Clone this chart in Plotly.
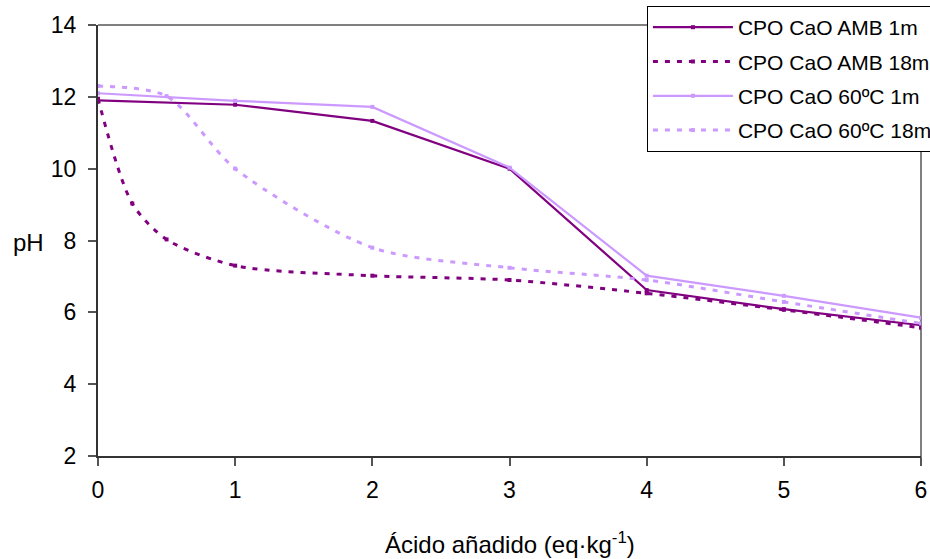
import plotly.graph_objects as go

# Acid added (eq/kg) and measured pH for each sample series
acid = [0, 1, 2, 3, 4, 5, 6]
ph_amb_1m = [11.90, 11.78, 11.33, 10.00, 6.62, 6.09, 5.64]

acid_amb_18m = [0, 0.25, 0.5, 1, 2, 3, 4, 5, 6]
ph_amb_18m = [11.95, 9.03, 8.03, 7.30, 7.02, 6.90, 6.53, 6.07, 5.57]

ph_60_1m = [12.10, 11.89, 11.72, 10.03, 7.02, 6.46, 5.85]

acid_60_18m = [0, 0.5, 1, 2, 3, 4, 5, 6]
ph_60_18m = [12.30, 12.02, 10.00, 7.80, 7.24, 6.90, 6.29, 5.69]

x_ticks = [0, 1, 2, 3, 4, 5, 6]
y_ticks = [2, 4, 6, 8, 10, 12, 14]

DARK = "#800080"
LIGHT = "#CC99FF"
FONT = "Arial, Liberation Sans, sans-serif"

fig = go.Figure()

fig.add_trace(go.Scatter(
    x=acid, y=ph_amb_1m, name="CPO CaO AMB 1m", mode="lines+markers",
    line=dict(color=DARK, width=2.2),
    marker=dict(color=DARK, size=4, symbol="square"),
    legendgroup="a",
))
fig.add_trace(go.Scatter(
    x=acid_amb_18m, y=ph_amb_18m, name="CPO CaO AMB 18m", mode="lines+markers",
    line=dict(color=DARK, width=3, dash="5px,7px", shape="spline", smoothing=0.8),
    marker=dict(color=DARK, size=4, symbol="square"),
    legendgroup="b",
))
fig.add_trace(go.Scatter(
    x=acid, y=ph_60_1m, name="CPO CaO 60ºC 1m", mode="lines+markers",
    line=dict(color=LIGHT, width=2.2),
    marker=dict(color=LIGHT, size=4, symbol="square"),
    legendgroup="c",
))
fig.add_trace(go.Scatter(
    x=acid_60_18m, y=ph_60_18m, name="CPO CaO 60ºC 18m", mode="lines+markers",
    line=dict(color=LIGHT, width=3, dash="5px,7px", shape="spline", smoothing=0.8),
    marker=dict(color=LIGHT, size=4, symbol="square"),
    legendgroup="d",
))

# Plot-area frame: gray on top and right
fig.add_shape(type="line", xref="paper", yref="paper", x0=0, x1=1, y0=1, y1=1,
              line=dict(color="#808080", width=2), layer="below")
fig.add_shape(type="line", xref="paper", yref="paper", x0=1, x1=1, y0=-0.015, y1=1,
              line=dict(color="#808080", width=2), layer="below")

fig.add_annotation(text="pH", xref="paper", yref="paper", x=-0.085, y=0.4965,
                   xanchor="center", yanchor="middle", showarrow=False,
                   font=dict(family=FONT, size=24, color="black"))
fig.add_annotation(text="Ácido añadido (eq·kg<sup>-1</sup>)", xref="paper", yref="paper",
                   x=0.5006, y=-0.201, xanchor="center", yanchor="middle", showarrow=False,
                   font=dict(family=FONT, size=24, color="black"))

fig.update_layout(
    width=930, height=559,
    margin=dict(l=98, r=9, t=25, b=103, autoexpand=False),
    paper_bgcolor="white", plot_bgcolor="white",
    font=dict(family=FONT, size=22, color="black"),
    showlegend=True,
    legend=dict(
        x=0.667, y=1.044, xanchor="left", yanchor="top",
        bgcolor="white", bordercolor="black", borderwidth=1,
        font=dict(family=FONT, size=21, color="black"),
        itemwidth=80, tracegroupgap=4, traceorder="grouped",
    ),
    xaxis=dict(
        range=[0, 6], tickvals=x_ticks, ticktext=[str(v) for v in x_ticks],
        showgrid=False, zeroline=False,
        showline=True, linecolor="#333333", linewidth=2,
        ticks="outside", ticklen=8, tickcolor="#555555", tickwidth=1.5,
        tickfont=dict(family=FONT, size=23, color="black"),
        ticklabelstandoff=4,
    ),
    yaxis=dict(
        range=[2, 14], tickvals=y_ticks, ticktext=[str(v) for v in y_ticks],
        showgrid=False, zeroline=False,
        showline=True, linecolor="#333333", linewidth=2,
        ticks="outside", ticklen=8, tickcolor="#555555", tickwidth=1.5,
        tickfont=dict(family=FONT, size=23, color="black"),
        ticklabelstandoff=7,
    ),
)

fig.write_html("out.html")
